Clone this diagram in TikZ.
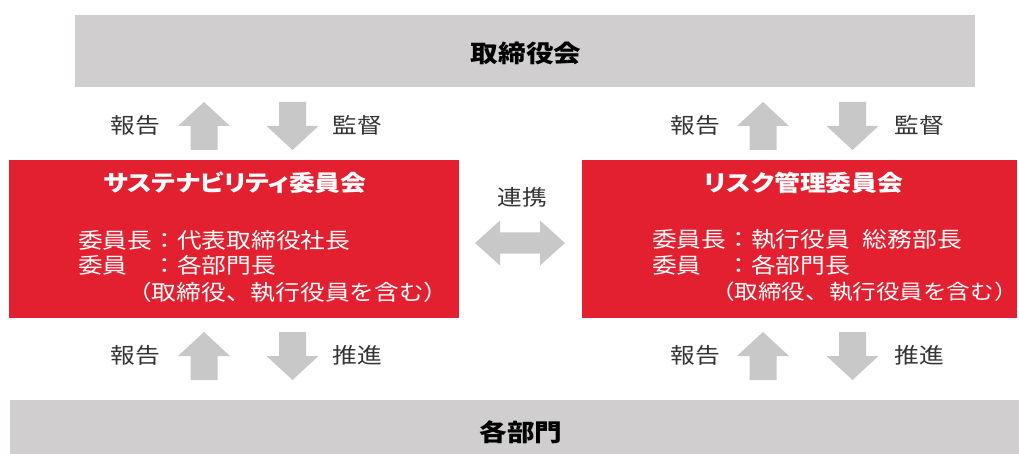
\documentclass[tikz,border=0pt]{standalone}
\usepackage{fontspec}
\newfontfamily\jp[FakeStretch=1.15]{Noto Sans CJK JP}
\newfontfamily\jpt[FakeStretch=1.15,RawFeature=+palt]{Noto Sans CJK JP}
\usetikzlibrary{positioning}
\definecolor{boxgray}{HTML}{D0CECF}
\definecolor{arrgray}{HTML}{C8C8C8}
\definecolor{cred}{HTML}{E3202F}
\definecolor{txt}{HTML}{333333}
\tikzset{
  graybox/.style={fill=boxgray, draw=none},
  redbox/.style={fill=cred, draw=none},
  lbl/.style={inner sep=0pt, text=txt, font=\jp\fontsize{21.5}{24}\selectfont},
  body/.style={inner sep=0pt, anchor=west, text=white, font=\jp\fontsize{21.5}{24}\selectfont},
  bodys/.style={body, font=\jp\fontsize{20.5}{24}\selectfont},
  ttl/.style={inner sep=0pt, text=white, font=\jpt\bfseries\fontsize{22.5}{25}\selectfont},
  big/.style={inner sep=0pt, text=black, font=\jp\bfseries\fontsize{24}{26}\selectfont},
  uparr/.pic={\fill[arrgray] (-13.5,48) -- (-13.5,24) -- (-26,24) -- (0,0) -- (26,24) -- (13.5,24) -- (13.5,48) -- cycle;},
  dnarr/.pic={\fill[arrgray] (-13.5,0) -- (-13.5,24) -- (-26,24) -- (0,48) -- (26,24) -- (13.5,24) -- (13.5,0) -- cycle;}
}
\begin{document}
\begin{tikzpicture}[x=1pt,y=-1pt]
\useasboundingbox (0,0) rectangle (1019,454);
% boxes
\fill[graybox] (75,15) rectangle (975,87);
\node[big] (board) at (526,53) {取締役会};
\fill[graybox] (10,400) rectangle (1019,454);
\node[big] (depts) at (521,432) {各部門};
\fill[redbox] (9,160) rectangle (459,318);
\fill[redbox] (582,160) rectangle (1017,318);
% left committee
\node[ttl] (sust) at (235,183) {サステナビリティ委員会};
\node[body] (s1) at (78,240) {委員長：代表取締役社長};
\node[body] (s2) at (78,265) {委員　：各部門長};
\node[body] (s3) at (127,292) {（取締役、執行役員を含む）};
% right committee
\node[ttl] (risk) at (804,183) {リスク管理委員会};
\node[body] (r1) at (652,240) {委員長：執行役員\hspace{0.6em}総務部長};
\node[body] (r2) at (652,265) {委員　：各部門長};
\node[bodys] (r3) at (711,292) {（取締役、執行役員を含む）};
% vertical arrows
\pic at (204,102) {uparr};
\pic at (292.5,102) {dnarr};
\pic at (763,102) {uparr};
\pic at (852.5,102) {dnarr};
\pic at (204,332) {uparr};
\pic at (292.5,332) {dnarr};
\pic at (763,332) {uparr};
\pic at (852.5,332) {dnarr};
% labels
\node[lbl] (l1) at (135,125) {報告};
\node[lbl] (l2) at (357,125) {監督};
\node[lbl] (l3) at (695,125) {報告};
\node[lbl] (l4) at (919,125) {監督};
\node[lbl] (l5) at (135,355) {報告};
\node[lbl] (l6) at (357,355) {推進};
\node[lbl] (l7) at (695,355) {報告};
\node[lbl] (l8) at (919,355) {推進};
% double arrow
\fill[arrgray] (475,243) -- (500,220.5) -- (500,232.5) -- (540,232.5) -- (540,220.5) -- (565,243) -- (540,265.5) -- (540,253.5) -- (500,253.5) -- (500,265.5) -- cycle;
\node[lbl] (coop) at (522,197) {連携};
\end{tikzpicture}
\end{document}
